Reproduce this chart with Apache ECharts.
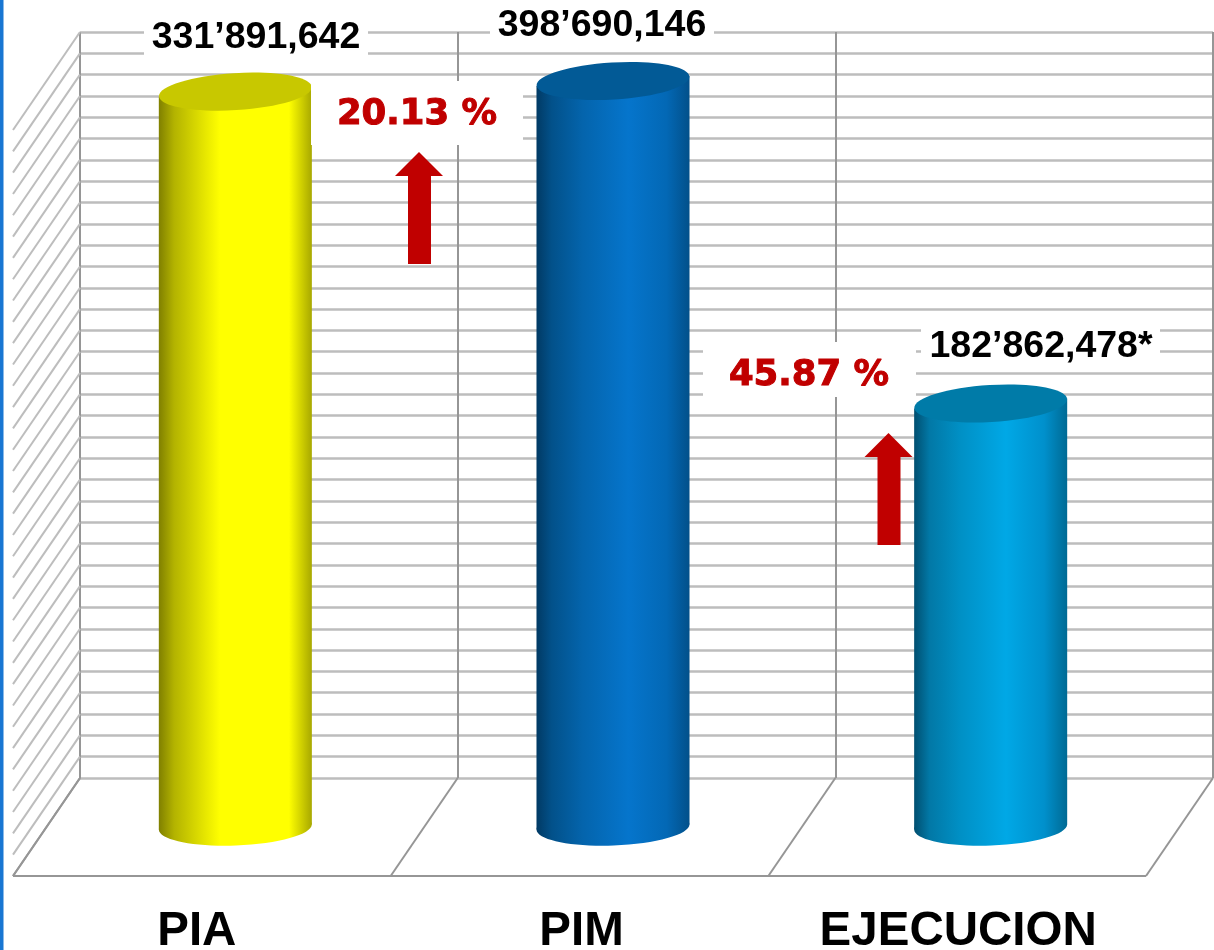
<!DOCTYPE html>
<html>
<head>
<meta charset="utf-8">
<style>
    html, body { margin: 0; padding: 0; background: #fff; }
    #main { width: 1214px; height: 950px; }
</style>
<script src="https://cdn.jsdelivr.net/npm/echarts@6/dist/echarts.min.js"></script>
</head>
<body>
<div id="main"></div>
<script>
const categories = ['PIA', 'PIM', 'EJECUCION'];
// printed amounts
const amountLabels = ['331’891,642', '398’690,146', '182’862,478*'];
const changeLabels = ['20.13 %', '45.87 %'];
// heights of the cylinders as drawn, counted in gridline steps (the picture is not to scale with the amounts)
const drawnHeights = [34.5, 35, 19.87];
const gridSteps = [0, 1, 2, 3, 4, 5, 6, 7, 8, 9, 10, 11, 12, 13, 14, 15, 16, 17, 18, 19, 20, 21, 22, 23, 24, 25, 26, 27, 28, 29, 30, 31, 32, 33, 34, 35];
const bandEdges = [0, 1, 2, 3];

// depth of the fake 3d floor
const depthX = -67;
const depthY = 98;
const gridColor = '#bdbdbd';
const frameColor = '#969696';

const barColors = [
    { top: '#c8c800', stops: [[0, '#808000'], [0.1, '#b3b300'], [0.3, '#e6e600'], [0.4, '#ffff00'], [0.85, '#ffff00'], [1, '#a8a800']] },
    { top: '#025a96', stops: [[0, '#013a64'], [0.1, '#02518a'], [0.3, '#0464ac'], [0.6, '#0575cc'], [0.85, '#0368b5'], [1, '#02508a']] },
    { top: '#007ba8', stops: [[0, '#014f70'], [0.1, '#0278a6'], [0.3, '#0090c5'], [0.6, '#00a8e6'], [0.85, '#0090cc'], [1, '#006a94']] }
];

function sideGradient(c) {
    return {
        type: 'linear', x: 0, y: 0, x2: 1, y2: 0,
        colorStops: c.stops.map(s => ({ offset: s[0], color: s[1] }))
    };
}

function renderCylinder(params, api) {
    const i = api.value(0);
    const top = api.coord([i, api.value(1)]);
    const base = api.coord([i, 0]);
    const cx = top[0] + depthX / 2;
    const ty = top[1] + depthY / 2;
    const by = base[1] + depthY / 2;
    const r = api.size([1, 0])[0] * 0.2026;
    const c = barColors[i];
    const fill = sideGradient(c);
    return {
        type: 'group',
        children: [
            {
                type: 'ellipse', originX: cx, originY: by, rotation: 0.035,
                shape: { cx: cx, cy: by, rx: r, ry: 18.5 },
                style: { fill: fill }
            },
            {
                type: 'polygon',
                shape: { points: [[cx - r, ty + 5], [cx + r, ty - 5], [cx + r, by - 2.5], [cx - r, by + 2.5]] },
                style: { fill: fill }
            },
            {
                type: 'ellipse', originX: cx, originY: ty, rotation: 0.06,
                shape: { cx: cx, cy: ty, rx: r, ry: 18.5 },
                style: { fill: c.top }
            }
        ]
    };
}

function renderSideWall(params, api) {
    const p = api.coord([0, api.value(0)]);
    const x = p[0] - api.size([1, 0])[0] / 2;
    return {
        type: 'line',
        shape: { x1: x, y1: p[1], x2: x + depthX, y2: p[1] + depthY },
        style: { stroke: api.value(0) === 0 ? frameColor : gridColor, lineWidth: 2 }
    };
}

function renderFloor(params, api) {
    const band = api.size([1, 0])[0];
    const p = api.coord([0, 0]);
    const x = p[0] - band / 2 + api.value(0) * band;
    const children = [{
        type: 'line',
        shape: { x1: x, y1: p[1], x2: x + depthX, y2: p[1] + depthY },
        style: { stroke: frameColor, lineWidth: 2 }
    }];
    if (params.dataIndex === 0) {
        children.push({
            type: 'line',
            shape: { x1: x + depthX, y1: p[1] + depthY, x2: x + depthX + band * 3, y2: p[1] + depthY },
            style: { stroke: frameColor, lineWidth: 2 }
        });
    }
    return { type: 'group', children: children };
}

function box(x, y, w, h) {
    return { type: 'rect', z: 10, shape: { x: x, y: y, width: w, height: h }, style: { fill: '#fff' } };
}

function amountText(text, x, y) {
    return {
        type: 'text', z: 11, x: x, y: y,
        style: { text: text, fill: '#000', font: 'bold 37.5px "Liberation Sans"', textAlign: 'center', textVerticalAlign: 'middle' }
    };
}

function changeText(text, x, y) {
    return {
        type: 'text', z: 11, x: x, y: y,
        style: {
            text: text, fill: '#c00000', stroke: '#c00000', lineWidth: 1,
            font: 'bold 35.5px "DejaVu Sans"', textAlign: 'center', textVerticalAlign: 'middle'
        }
    };
}

function arrow(tipX, tipY) {
    return {
        type: 'polygon', z: 12,
        shape: {
            points: [
                [tipX, tipY], [tipX + 24, tipY + 24], [tipX + 12, tipY + 24], [tipX + 12, tipY + 112],
                [tipX - 11, tipY + 112], [tipX - 11, tipY + 24], [tipX - 24, tipY + 24]
            ]
        },
        style: { fill: '#c00000' }
    };
}

const chart = echarts.init(document.getElementById('main'), null, { renderer: 'canvas' });

chart.setOption({
    animation: false,
    backgroundColor: '#fff',
    grid: { left: 80, top: 32, width: 1133, height: 746, outerBoundsMode: 'none' },
    xAxis: {
        type: 'category',
        data: [
            { value: categories[0], textStyle: { padding: [0, 144, 0, 0] } },
            { value: categories[1], textStyle: { padding: [0, 130, 0, 0] } },
            { value: categories[2], textStyle: { padding: [0, 132, 0, 0] } }
        ],
        axisLine: { show: false },
        axisTick: { show: false },
        axisLabel: {
            interval: 0,
            margin: 130,
            color: '#000',
            fontFamily: 'Liberation Sans',
            fontWeight: 'bold',
            fontSize: 47.5
        },
        splitLine: { show: true, interval: 0, lineStyle: { color: frameColor, width: 2 } }
    },
    yAxis: {
        type: 'value',
        min: 0,
        max: 35,
        interval: 1,
        axisLine: { show: false },
        axisTick: { show: false },
        axisLabel: { show: false },
        splitLine: { show: true, lineStyle: { color: gridColor, width: 2.5 } }
    },
    series: [
        {
            type: 'custom', z: 1, silent: true,
            renderItem: renderSideWall,
            encode: { y: 0 },
            data: gridSteps.map(v => [v])
        },
        {
            type: 'custom', z: 1, silent: true,
            renderItem: renderFloor,
            data: bandEdges.map(v => [v])
        },
        {
            type: 'custom', z: 2,
            renderItem: renderCylinder,
            encode: { x: 0, y: 1 },
            data: drawnHeights.map((v, i) => [i, v])
        }
    ],
    graphic: [
        { type: 'rect', z: 20, shape: { x: 0, y: 0, width: 3.5, height: 950 }, style: { fill: '#1976d2' } },
        box(144, 14, 224, 46),
        box(490, 4, 224, 42),
        box(311, 81, 212, 64),
        box(703, 342, 213, 55),
        box(921, 325, 239, 42),
        amountText(amountLabels[0], 256, 38),
        amountText(amountLabels[1], 602, 26),
        amountText(amountLabels[2], 1041, 347),
        changeText(changeLabels[0], 417, 115),
        changeText(changeLabels[1], 809, 376),
        arrow(419, 152),
        arrow(888.5, 433)
    ]
});
</script>
</body>
</html>
